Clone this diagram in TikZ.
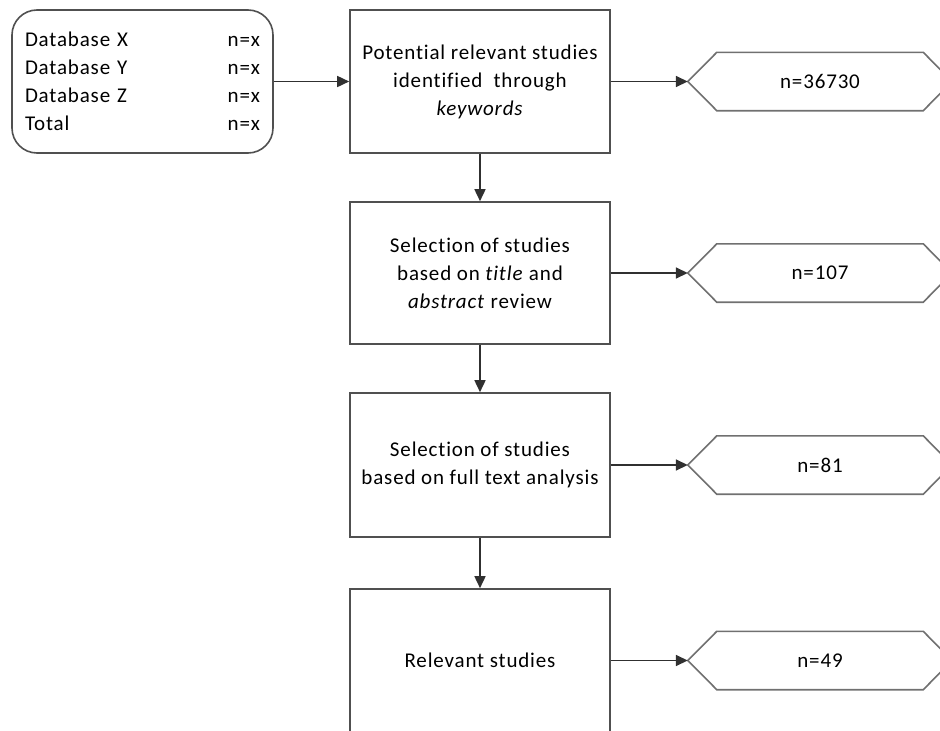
\documentclass[tikz,border=0pt]{standalone}
\usepackage{fontspec}
\setmainfont[Ligatures=NoCommon, LetterSpace=4]{Carlito}
\usetikzlibrary{arrows.meta,calc}
\definecolor{edgegray}{HTML}{505050}
\definecolor{hexgray}{HTML}{707070}
\definecolor{linkgray}{HTML}{303030}
\begin{document}
\begin{tikzpicture}[x=1pt,y=1pt,
  txt/.style={font=\fontsize{21}{28}\selectfont},
  stagebox/.style={txt, draw=edgegray, line width=1.6pt, minimum width=260pt,
    minimum height=143pt, inner sep=0pt, align=center},
  countbox/.style={txt, minimum width=264pt, minimum height=58pt, inner sep=0pt},
  hexline/.style={draw=hexgray, line width=1.6pt, line join=miter},
  link/.style={draw=linkgray, line width=1.6pt,
    -{Triangle[length=12pt,width=11pt]}}
]
\useasboundingbox (0,0) rectangle (940,-731);
\clip (0,0) rectangle (940,-731);

% database summary
\node[txt, draw=edgegray, line width=1.6pt, rounded corners=25pt,
      minimum width=261pt, minimum height=143pt, inner sep=0pt,
      text width=235pt, align=left] (db) at (142.5,-81.5)
  {Database X\hfill n=x\\
   Database Y\hfill n=x\\
   Database Z\hfill n=x\\
   Total\hfill n=x};

% selection stages
\node[stagebox] (s1) at (480,-81.5)
  {Potential relevant studies\\identified\ \ through\\\textit{keywords}};
\node[stagebox, minimum height=142pt] (s2) at (480,-273)
  {Selection of studies\\based on \textit{title} and\\\textit{abstract} review};
\node[stagebox, minimum height=144pt] (s3) at (480,-465)
  {Selection of studies\\based on full text analysis};
\node[stagebox] (s4) at (480,-660.5) {Relevant studies};

% counts
\node[countbox] (c1) at (820,-81.5) {n=36730};
\node[countbox] (c2) at (820,-273) {n=107};
\node[countbox] (c3) at (820,-465) {n=81};
\node[countbox] (c4) at (820,-660.5) {n=49};
\foreach \c in {c1,c2,c3,c4}{
  \draw[hexline] (\c.west) -- ($(\c.north west)+(29,0)$)
    -- ($(\c.north east)+(-29,0)$) -- (\c.east)
    -- ($(\c.south east)+(-29,0)$) -- ($(\c.south west)+(29,0)$) -- cycle;
}

% connectors
\draw[link] (db.east) -- (s1.west);
\draw[link] (s1.south) -- (s2.north);
\draw[link] (s2.south) -- (s3.north);
\draw[link] (s3.south) -- (s4.north);
\draw[link] (s1.east) -- (c1.west);
\draw[link] (s2.east) -- (c2.west);
\draw[link] (s3.east) -- (c3.west);
\draw[link] (s4.east) -- (c4.west);
\end{tikzpicture}
\end{document}
